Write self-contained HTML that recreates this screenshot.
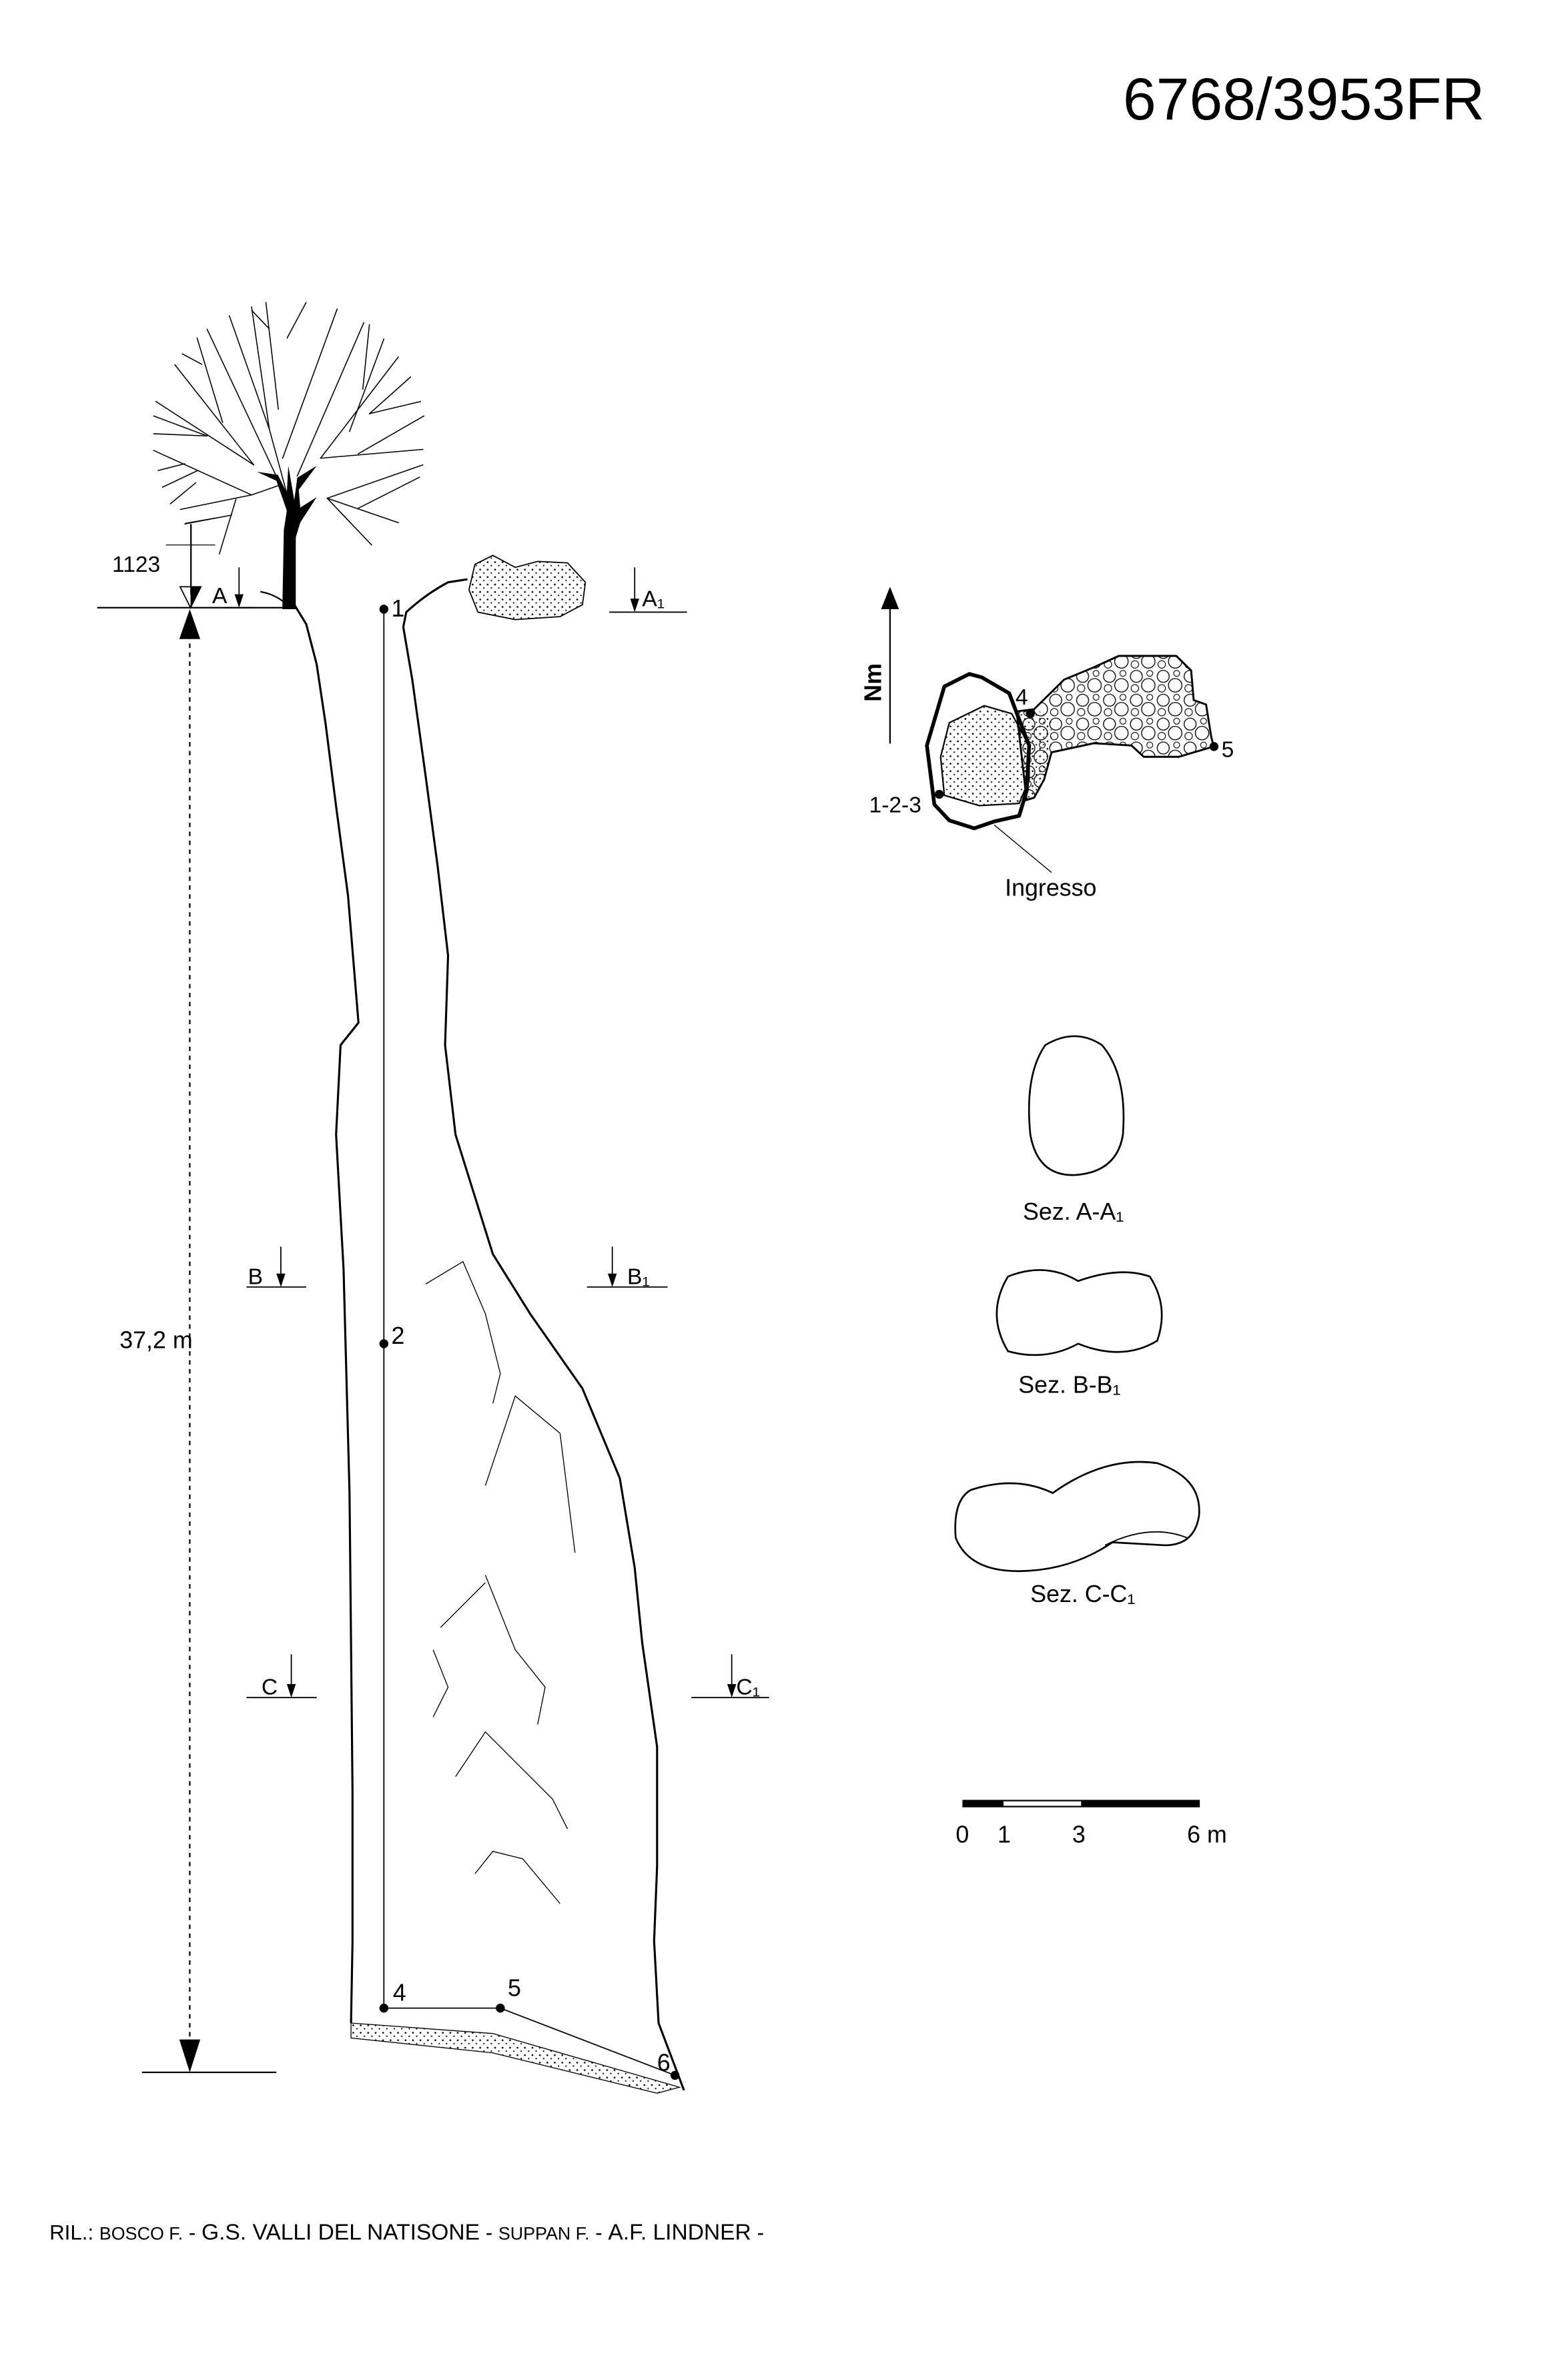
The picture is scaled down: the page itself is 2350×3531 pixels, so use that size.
<!DOCTYPE html>
<html><head><meta charset="utf-8"><style>
html,body{margin:0;padding:0;background:#fff;}
svg{display:block;}
text{font-family:"Liberation Sans",sans-serif;fill:#000;}
</style></head><body>
<svg width="2350" height="3531" viewBox="0 0 1050 1578" xmlns="http://www.w3.org/2000/svg">
<defs>
<pattern id="dots" width="5" height="5" patternUnits="userSpaceOnUse"><circle cx="1.5" cy="1.5" r="0.6" fill="#000"/><circle cx="4" cy="3.8" r="0.5" fill="#000"/></pattern>
<pattern id="peb" width="18" height="16" patternUnits="userSpaceOnUse"><circle cx="5" cy="5" r="4" fill="none" stroke="#000" stroke-width="0.6"/><circle cx="13" cy="11" r="4.5" fill="none" stroke="#000" stroke-width="0.6"/><circle cx="14" cy="3" r="2" fill="none" stroke="#000" stroke-width="0.5"/><circle cx="4" cy="13" r="2.5" fill="none" stroke="#000" stroke-width="0.5"/></pattern>
</defs>
<text x="752" y="80" font-size="40">6768/3953FR</text>

<!-- tree -->
<g stroke="#000" stroke-width="0.7" fill="none" stroke-linecap="round">
<path d="M193.7,336.7 L180.3,287.5 L168.4,205.6"/>
<path d="M180.3,287.5 L153.5,211.5"/>
<path d="M186.3,274.1 L178,202.6"/>
<path d="M189.2,306.9 L225.7,207"/>
<path d="M199,318.8 L243.6,216"/>
<path d="M234,289 L257,227"/>
<path d="M214.6,306.9 L266.7,239.1"/>
<path d="M214.6,306.9 L283.1,301"/>
<path d="M239.9,303.9 L283.8,278.6"/>
<path d="M219,333.7 L283.1,311.4"/>
<path d="M219,333.7 L266.7,350.1"/>
<path d="M219,333.7 L248.8,365"/>
<path d="M239.9,340.4 L280.9,319.6"/>
<path d="M247.3,277.1 L274.9,252.5"/>
<path d="M247.3,277.1 L281.6,268.9"/>
<path d="M187.7,324.8 L138.6,220.5"/>
<path d="M169.9,311.4 L117,244.3"/>
<path d="M169.9,311.4 L104.3,268.9"/>
<path d="M149,283 L131.9,226.4"/>
<path d="M138.6,292 L102.8,290.5"/>
<path d="M138.6,292 L102.8,278.6"/>
<path d="M187.7,324.8 L168.4,331.5 L102.8,301.7"/>
<path d="M168.4,331.5 L120.7,341.2"/>
<path d="M157.9,334.5 L146.8,371"/>
<path d="M155,345 L123.7,350.9"/>
<path d="M132.6,315 L108.8,326.3"/>
<path d="M123.7,310.6 L105.8,315.1"/>
<path d="M131.1,323.3 L114,337.4"/>
<path d="M204.9,202.6 L192.2,226.4"/>
<path d="M247.3,217.5 L242.9,260.7"/>
<path d="M168.6,208 L180,220"/>
<path d="M122,237 L135,244"/>
</g>
<path d="M189,408 L190,355 L192,342 L185,322 L172,316 L186,318 L192,330 L193,312 L197,335 L199,320 L212,312 L200,328 L201,340 L212,333 L201,350 L198,360 L198,408 Z" fill="#000"/>

<!-- datum lines -->
<g stroke="#000" stroke-width="1" fill="none">
<line x1="65" y1="407" x2="190" y2="407"/>
<line x1="95" y1="1388" x2="185" y2="1388"/>
<line x1="127.8" y1="351" x2="127.8" y2="398"/>
<line x1="111" y1="365" x2="144" y2="365" stroke-width="0.6"/>
<line x1="124" y1="350.5" x2="144" y2="347" stroke-width="0.6"/>
<line x1="127" y1="425" x2="127" y2="1370" stroke-dasharray="3,3"/>
<path d="M174.3,396.3 Q184,398 190.7,403.8"/>
</g>
<path d="M120.5,393 L134.5,393 L127.5,407 Z" fill="none" stroke="#000" stroke-width="0.8"/>
<path d="M127.5,393 L134.5,393 L127.5,407 Z" fill="#000"/>
<path d="M120,428 L134,428 L127,408 Z" fill="#000"/>
<path d="M120,1366 L134,1366 L127,1388 Z" fill="#000"/>
<text x="75" y="383" font-size="15">1123</text>
<text x="80" y="903" font-size="16">37,2 m</text>

<!-- cave walls -->
<g stroke="#000" stroke-width="1.4" fill="none">
<path d="M197,405 L205,418 L212,445 L218,485 L225,540 L233,600 L240,685 L228,700 L225,760 L230,850 L234,1000 L235,1100 L236,1200 L236,1300 L235,1355"/>
<path d="M270,420 L276,455 L285,520 L293,580 L300,640 L298,700 L305,760 L330,840 L355,880 L390,930 L415,990 L425,1050 L430,1100 L440,1170 L440,1250 L438,1300 L441,1355 L458,1400"/>
<path d="M270,420 L272,410 Q285,398 300,390 L313,388"/>
</g>
<path d="M318,378 L330,372 L345,380 L360,376 L380,377 L392,390 L390,405 L375,413 L345,415 L320,410 L314,395 Z" fill="url(#dots)" stroke="#000" stroke-width="0.8"/>
<path d="M235,1355 L330,1362 L455,1398 L440,1402 L330,1375 L235,1365 Z" fill="url(#dots)" stroke="#000" stroke-width="0.6"/>

<!-- interior lines -->
<g stroke="#000" stroke-width="0.6" fill="none">
<path d="M285,860 L310,845 L325,880 L335,920 L330,940"/>
<path d="M325,995 L345,935 L375,960 L385,1040"/>
<path d="M295,1090 L325,1060 M325,1055 L345,1105 L365,1130 L360,1155"/>
<path d="M290,1105 L300,1130 L290,1150"/>
<path d="M305,1190 L325,1160 L345,1180 L370,1205 L380,1225"/>
<path d="M318,1255 L330,1240 L350,1245 L375,1275"/>
</g>

<!-- survey -->
<g stroke="#000" stroke-width="0.8" fill="none">
<line x1="257" y1="408" x2="257" y2="1345"/>
<line x1="257" y1="1345" x2="335" y2="1345"/>
<line x1="335" y1="1345" x2="452" y2="1390"/>
</g>
<g fill="#000"><circle cx="257" cy="408" r="3"/><circle cx="257" cy="900" r="3"/><circle cx="257" cy="1345" r="3"/><circle cx="335" cy="1345" r="3"/><circle cx="452" cy="1390" r="3"/></g>
<g font-size="16"><text x="262" y="413">1</text><text x="262" y="900">2</text><text x="263" y="1340">4</text><text x="340" y="1337">5</text><text x="440" y="1387">6</text></g>

<!-- section markers -->
<g stroke="#000" stroke-width="0.8" fill="none">
<line x1="150" y1="407" x2="170" y2="407"/><line x1="160" y1="380" x2="160" y2="400"/>
<line x1="408" y1="410" x2="460" y2="410"/><line x1="425" y1="380" x2="425" y2="403"/>
<line x1="165" y1="862" x2="205" y2="862"/><line x1="188" y1="835" x2="188" y2="855"/>
<line x1="393" y1="862" x2="447" y2="862"/><line x1="410" y1="835" x2="410" y2="855"/>
<line x1="165" y1="1137" x2="212" y2="1137"/><line x1="195" y1="1108" x2="195" y2="1130"/>
<line x1="463" y1="1137" x2="515" y2="1137"/><line x1="490" y1="1108" x2="490" y2="1130"/>
</g>
<g fill="#000">
<path d="M157,398 L160,407 L163,398 Z"/><path d="M422,401 L425,410 L428,401 Z"/>
<path d="M185,853 L188,862 L191,853 Z"/><path d="M407,853 L410,862 L413,853 Z"/>
<path d="M192,1128 L195,1137 L198,1128 Z"/><path d="M487,1128 L490,1137 L493,1128 Z"/>
</g>
<g font-size="15"><text x="142" y="404">A</text><text x="430" y="406">A₁</text><text x="166" y="860">B</text><text x="420" y="860">B₁</text><text x="175" y="1135">C</text><text x="493" y="1135">C₁</text></g>

<!-- plan -->
<line x1="596" y1="498" x2="596" y2="405" stroke="#000" stroke-width="1"/>
<path d="M590,408 L596,393 L602,408 Z" fill="#000"/>
<text x="590" y="470" font-size="16" font-weight="bold" transform="rotate(-90 590 470)">Nm</text>
<path d="M680.8,476.5 L692.5,475 L712.6,455.2 L731,447.6 L749.3,439.3 L787.7,439.3 L797.7,449.1 L799.4,468.9 L807.7,471.9 L811.1,493.2 L812.8,500 L789.4,506.9 L766,506.9 L757.7,499.3 L732.6,497.8 L704.2,503.9 L699.2,522.1 L692.5,534.3 L687.5,535.8 Z" fill="url(#peb)" stroke="#000" stroke-width="1.3"/>
<path d="M680.8,476.5 L692.5,475 L704,480 L704.2,503.9 L699.2,522.1 L692.5,534.3 L687.5,535.8 Z" fill="url(#dots)" stroke="none"/>
<path d="M635.7,484.1 L659.1,472.7 L677.5,478 L689.2,499.3 L689.2,522.1 L682.5,538.1 L655.8,539.6 L632.4,532.7 L629.9,506.9 Z" fill="url(#dots)" stroke="#000" stroke-width="1"/>
<path d="M649.1,451.4 L632.4,459.8 L620.7,499.3 L625.7,538.8 L635.7,549.5 L652.4,554.8 L665.8,550.2 L682.5,546.4 L687.5,529.7 L689.2,499.3 L675.8,464.3 L657.5,453.7 Z" fill="none" stroke="#000" stroke-width="2.5" stroke-linejoin="round"/>
<circle cx="690" cy="478" r="3" fill="#000"/><circle cx="813" cy="500" r="3" fill="#000"/><circle cx="629" cy="532" r="3" fill="#000"/>
<text x="680" y="472" font-size="15">4</text><text x="818" y="507" font-size="15">5</text>
<text x="582" y="544" font-size="15">1-2-3</text>
<line x1="665.8" y1="552.5" x2="704.2" y2="584.4" stroke="#000" stroke-width="0.6"/>
<text x="673" y="600" font-size="16">Ingresso</text>

<!-- cross sections -->
<path d="M700,700 Q720,688 738,700 Q755,720 752,760 Q748,785 720,787 Q695,788 690,760 Q686,720 700,700 Z" fill="none" stroke="#000" stroke-width="1.2"/>
<text x="685" y="817" font-size="16">Sez. A-A₁</text>
<path d="M675,855 Q700,845 722,858 Q750,848 770,855 Q783,875 775,898 Q752,912 722,900 Q700,912 675,905 Q660,880 675,855 Z" fill="none" stroke="#000" stroke-width="1.2"/>
<text x="682" y="933" font-size="16">Sez. B-B₁</text>
<path d="M650,998 Q680,988 705,1000 Q740,975 775,980 Q805,990 803,1015 Q800,1035 780,1035 L745,1033 Q720,1050 690,1052 Q650,1055 640,1030 Q638,1005 650,998 Z" fill="none" stroke="#000" stroke-width="1.2"/>
<path d="M740,1035 Q770,1020 795,1030" fill="none" stroke="#000" stroke-width="0.8"/>
<text x="690" y="1073" font-size="16">Sez. C-C₁</text>

<!-- scale bar -->
<rect x="645" y="1206" width="158" height="4" fill="none" stroke="#000" stroke-width="1"/>
<rect x="645" y="1206" width="27" height="4" fill="#000"/>
<rect x="724" y="1206" width="79" height="4" fill="#000"/>
<g font-size="16"><text x="640" y="1234">0</text><text x="668" y="1234">1</text><text x="718" y="1234">3</text><text x="795" y="1234">6 m</text></g>

<text x="33" y="1500" font-size="14">RIL.: <tspan font-size="12">BOSCO F.</tspan> - <tspan font-size="15">G.S. VALLI DEL NATISONE</tspan> - <tspan font-size="12">SUPPAN F.</tspan> - <tspan font-size="15">A.F. LINDNER</tspan> -</text>
</svg>
</body></html>
